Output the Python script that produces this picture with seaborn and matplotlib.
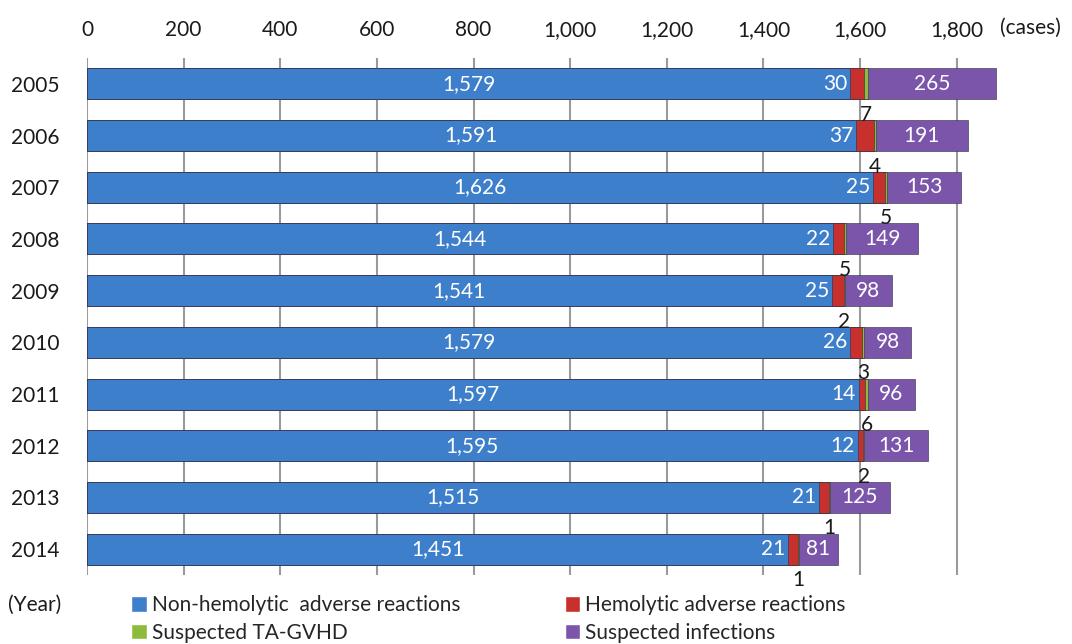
import numpy as np
import pandas as pd
import matplotlib
matplotlib.use("Agg")
import matplotlib.pyplot as plt
from matplotlib.patches import Patch
import seaborn as sns

years = ["2005", "2006", "2007", "2008", "2009", "2010", "2011", "2012", "2013", "2014"]
non_hemolytic = [1579, 1591, 1626, 1544, 1541, 1579, 1597, 1595, 1515, 1451]
hemolytic = [30, 37, 25, 22, 25, 26, 14, 12, 21, 21]
ta_gvhd = [7, 4, 5, 5, 2, 3, 6, 2, 1, 1]
infections = [265, 191, 153, 149, 98, 98, 96, 131, 125, 81]
x_ticks = [0, 200, 400, 600, 800, 1000, 1200, 1400, 1600, 1800]

series_names = ["Non-hemolytic  adverse reactions", "Hemolytic adverse reactions",
                "Suspected TA-GVHD", "Suspected infections"]
colors = ["#3E7FCB", "#C8302E", "#8DBB3E", "#7A55AA"]

sns.set_theme(style="white")
plt.rcParams["font.family"] = ["Lato", "DejaVu Sans"]
FS = 15

df = pd.DataFrame({"year": years, "s1": non_hemolytic, "s2": hemolytic,
                   "s3": ta_gvhd, "s4": infections})
cum = df[["s1", "s2", "s3", "s4"]].cumsum(axis=1)
cum["year"] = df["year"]

fig = plt.figure(figsize=(10.72, 6.44), dpi=100)
ax = fig.add_axes([87 / 1072, 1 - 575 / 644, (1005 - 87) / 1072, (575 - 58) / 644])

# stacked bars: draw cumulative totals from the longest down
for col, c in zip(["s4", "s3", "s2", "s1"], colors[::-1]):
    sns.barplot(data=cum, x=col, y="year", order=years, color=c, width=0.6,
                saturation=1, edgecolor="#2b2b40", linewidth=0.4, ax=ax)

ax.set_xlim(0, 1900)
ax.set_ylim(len(years) - 0.5, -0.5)
ax.xaxis.tick_top()
ax.set_xticks(x_ticks)
ax.set_xticklabels([f"{v:,}" for v in x_ticks])
ax.tick_params(axis="both", length=0, labelsize=FS, colors="#1a1a1a")
ax.tick_params(axis="x", pad=13)
ax.tick_params(axis="y", pad=20)
ax.set_xlabel("")
ax.set_ylabel("")
for s in ax.spines.values():
    s.set_visible(False)
ax.grid(axis="x", color="#9a9a9a", linewidth=1.5)
ax.set_axisbelow(True)

# value labels
for i, y in enumerate(years):
    b = non_hemolytic[i]
    h = hemolytic[i]
    g = ta_gvhd[i]
    p = infections[i]
    ax.text(b / 2, i, f"{b:,}", ha="center", va="center", color="white", fontsize=FS)
    ax.annotate(f"{h}", xy=(b, i), xytext=(-2, 0), textcoords="offset points",
                ha="right", va="center", color="white", fontsize=FS)
    ax.text(b + h + g / 2, i + 0.6, f"{g}", ha="center", va="center",
            color="#1a1a1a", fontsize=FS)
    ax.text(b + h + g + p / 2, i, f"{p}", ha="center", va="center",
            color="white", fontsize=FS)

fig.text(1000 / 1072, 1 - 28 / 644, "(cases)", ha="left", va="center",
         fontsize=FS, color="#1a1a1a")
fig.text(35 / 1072, 1 - 605 / 644, "(Year)", ha="center", va="center",
         fontsize=FS, color="#1a1a1a")

handles = [Patch(facecolor=colors[0], label=series_names[0]),
           Patch(facecolor=colors[2], label=series_names[2]),
           Patch(facecolor=colors[1], label=series_names[1]),
           Patch(facecolor=colors[3], label=series_names[3])]
fig.legend(handles=handles, ncol=2, loc="center left",
           bbox_to_anchor=(131 / 1072, 1 - 619 / 644), frameon=False,
           fontsize=FS, handlelength=0.75, handleheight=0.75, handletextpad=0.25,
           columnspacing=5.0, labelspacing=0.35, borderaxespad=0, borderpad=0)

fig.savefig("out.png", dpi=100)
